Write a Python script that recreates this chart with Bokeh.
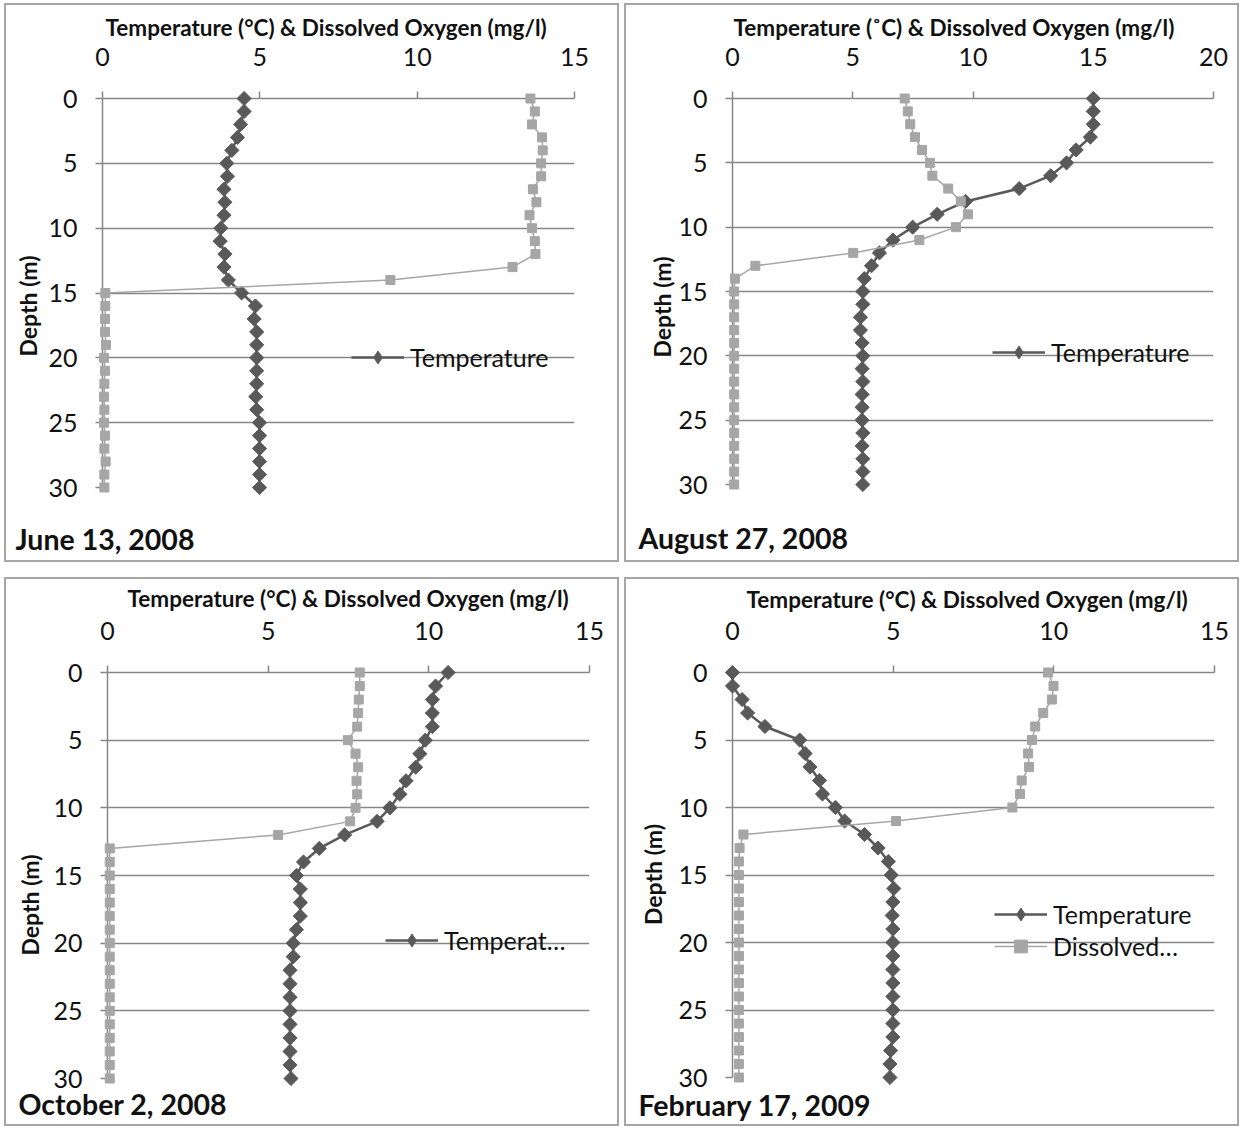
import numpy as np
from bokeh.plotting import figure
from bokeh.models import Range1d, FixedTicker, Legend, LegendItem, ColumnDataSource, Title, Spacer
from bokeh.layouts import row, column
from bokeh.embed import file_html
from bokeh.resources import INLINE

# ---------------- data ----------------
depth = list(range(31))
depth_ticks = [0, 5, 10, 15, 20, 25, 30]

jun_temp = [4.50, 4.50, 4.39, 4.29, 4.11, 3.95, 3.97, 3.86, 3.89, 3.86, 3.76, 3.74, 3.89, 3.86, 4.00,
            4.42, 4.86, 4.82, 4.90, 4.90, 4.90, 4.90, 4.90, 4.87, 4.90, 4.99, 4.99, 4.99, 4.99, 4.99, 4.99]
jun_do = [13.60, 13.74, 13.65, 13.97, 13.99, 13.94, 13.94, 13.68, 13.79, 13.57, 13.65, 13.74, 13.76, 13.03, 9.15,
          0.09, 0.09, 0.08, 0.08, 0.11, 0.05, 0.08, 0.06, 0.05, 0.06, 0.05, 0.08, 0.06, 0.10, 0.06, 0.06]

aug_temp = [15.00, 15.00, 15.00, 14.88, 14.29, 13.89, 13.23, 11.92, 9.69, 8.51, 7.49, 6.67, 6.11, 5.78, 5.48,
            5.42, 5.42, 5.32, 5.32, 5.39, 5.42, 5.39, 5.42, 5.39, 5.39, 5.39, 5.42, 5.39, 5.42, 5.42, 5.42]
aug_do = [7.16, 7.29, 7.39, 7.59, 7.88, 8.21, 8.31, 8.97, 9.49, 9.79, 9.29, 7.77, 5.02, 0.95, 0.10,
          0.07, 0.07, 0.07, 0.07, 0.07, 0.07, 0.07, 0.07, 0.07, 0.07, 0.07, 0.07, 0.07, 0.07, 0.07, 0.07]

oct_temp = [10.60, 10.21, 10.11, 10.11, 10.11, 9.89, 9.72, 9.59, 9.29, 9.10, 8.79, 8.39, 7.38, 6.59, 6.10,
            5.88, 6.00, 6.00, 6.00, 5.88, 5.78, 5.78, 5.68, 5.68, 5.68, 5.68, 5.68, 5.68, 5.68, 5.68, 5.71]
oct_do = [7.85, 7.85, 7.82, 7.80, 7.77, 7.48, 7.72, 7.80, 7.75, 7.77, 7.72, 7.55, 5.31, 0.07, 0.07,
          0.07, 0.07, 0.07, 0.07, 0.07, 0.07, 0.07, 0.07, 0.07, 0.07, 0.07, 0.07, 0.07, 0.07, 0.07, 0.07]

feb_temp = [0.00, 0.00, 0.30, 0.47, 1.01, 2.09, 2.26, 2.41, 2.71, 2.80, 3.20, 3.49, 4.11, 4.53, 4.85,
            4.94, 5.02, 4.99, 4.97, 4.99, 4.99, 4.99, 4.99, 4.99, 4.99, 4.99, 4.99, 4.99, 4.92, 4.90, 4.90]
feb_do = [9.82, 9.99, 9.94, 9.67, 9.42, 9.32, 9.20, 9.23, 9.00, 8.95, 8.71, 5.09, 0.34, 0.22, 0.20,
          0.20, 0.20, 0.20, 0.20, 0.20, 0.20, 0.20, 0.20, 0.20, 0.20, 0.20, 0.20, 0.20, 0.20, 0.20, 0.20]

dates = ["June 13, 2008", "August 27, 2008", "October 2, 2008", "February 17, 2009"]
x_titles = ["Temperature (°C) & Dissolved Oxygen (mg/l)",
            "Temperature (˚C) & Dissolved Oxygen (mg/l)",
            "Temperature (°C) & Dissolved Oxygen (mg/l)",
            "Temperature (°C) & Dissolved Oxygen (mg/l)"]
y_title = "Depth (m)"
x_ticks = [[0, 5, 10, 15], [0, 5, 10, 15, 20], [0, 5, 10, 15], [0, 5, 10, 15]]
legend_labels = [["Temperature"], ["Temperature"], ["Temperat…"], ["Temperature", "Dissolved…"]]

# ---------------- style ----------------
FONT = "Lato"
TEMP_COLOR = "#595959"
DO_COLOR = "#a6a6a6"
GRID_COLOR = "#868686"
TEXT_COLOR = "#111111"
FRAME_CSS = {"border": "2px solid #a6a6a6"}
FRAME_FIX = 4  # the css frame adds this many px to the plot area

XT_SIZE = 22.5
DT_SIZE = 28.5


def make_panel(temp, do, xticks, date, xtitle, labels, geo):
    cx, cy, cw, ch = geo["canvas"]
    L, R, T, B = geo["area"]
    W, H = R - L, B - T
    xmax = xticks[-1]
    p = figure(frame_width=W - FRAME_FIX, frame_height=H - FRAME_FIX, output_backend="svg",
               toolbar_location=None,
               x_range=Range1d(0, xmax), y_range=Range1d(30, 0), x_axis_location="above",
               min_border_left=L - cx, min_border_top=T - cy, min_border_right=cx + cw - R + FRAME_FIX,
               min_border_bottom=cy + ch - B + FRAME_FIX, title=None, styles=FRAME_CSS,
               background_fill_color="white", border_fill_color="white")
    p.outline_line_color = None
    p.xgrid.visible = False
    p.ygrid.ticker = FixedTicker(ticks=depth_ticks)
    p.ygrid.grid_line_color = GRID_COLOR
    p.ygrid.grid_line_width = 1.5
    p.xaxis.ticker = FixedTicker(ticks=xticks)
    p.yaxis.ticker = FixedTicker(ticks=depth_ticks)
    for ax in (p.xaxis[0], p.yaxis[0]):
        ax.major_tick_out = 7
        ax.major_tick_in = 0
        ax.minor_tick_out = 0
        ax.minor_tick_in = 0
        ax.axis_line_color = GRID_COLOR
        ax.axis_line_width = 1.5
        ax.major_tick_line_color = GRID_COLOR
        ax.major_tick_line_width = 1.5
        ax.major_label_text_font = FONT
        ax.major_label_text_font_size = "25px"
        ax.major_label_text_color = TEXT_COLOR
    p.xaxis.major_label_standoff = 26
    p.yaxis.major_label_standoff = 18

    src = ColumnDataSource(dict(depth=depth, temp=temp, do=do))
    t_line = p.line("temp", "depth", source=src, line_color=TEMP_COLOR, line_width=2.5, level="overlay")
    p.scatter("temp", "depth", source=src, marker="square", angle=np.pi / 4, size=10,
              fill_color=TEMP_COLOR, line_color=TEMP_COLOR, level="overlay")
    d_line = p.line("do", "depth", source=src, line_color=DO_COLOR, line_width=1.5, level="overlay")
    p.scatter("do", "depth", source=src, marker="square", size=9,
              fill_color=DO_COLOR, line_color=DO_COLOR, level="overlay")
    # legend-only marker proxies (not drawn in the plot area)
    t_leg = p.scatter(x=[np.nan], y=[np.nan], marker="diamond", fill_color=TEMP_COLOR, line_color=TEMP_COLOR)
    d_leg = p.scatter(x=[np.nan], y=[np.nan], marker="square", fill_color=DO_COLOR, line_color=DO_COLOR)

    items = [LegendItem(label=labels[0], renderers=[t_line, t_leg])]
    if len(labels) > 1:
        items.append(LegendItem(label=labels[1], renderers=[d_line, d_leg]))
    lgx, lgy = geo["legend"]
    row_h = 32
    leg_bottom = lgy - row_h / 2 + row_h * len(items)
    leg = Legend(items=items, location=(lgx - L, B - leg_bottom), padding=0, margin=0, spacing=0,
                 glyph_width=53, glyph_height=row_h, label_height=row_h, label_standoff=6,
                 label_text_font=FONT, label_text_font_size="25px", label_text_color=TEXT_COLOR,
                 background_fill_alpha=0, border_line_alpha=0)
    p.add_layout(leg)

    # x-axis title above the top axis
    xt_x, xt_s, xt_lift = geo["xtitle"]
    xt_text, xt_lh = xtitle, 1.0
    if xt_lift > 0:
        xt_text = xtitle + "\n"
        xt_lh = xt_lift / (1.2 * XT_SIZE)
    p.add_layout(Title(text=xt_text, align="left", offset=xt_x - L, vertical_align="bottom", standoff=xt_s,
                       text_line_height=xt_lh, text_font=FONT, text_font_size=f"{XT_SIZE}px",
                       text_font_style="bold", text_color=TEXT_COLOR), "above")
    # depth title on the left
    yt_s, yt_y = geo["ytitle"]
    p.add_layout(Title(text=y_title, align="left", offset=B - yt_y, vertical_align="bottom", standoff=yt_s,
                       text_font=FONT, text_font_size="23px", text_font_style="bold",
                       text_color=TEXT_COLOR), "left")
    # date caption below the plot area
    dt_x, dt_base = geo["date"]
    drop = dt_base - 0.975 * DT_SIZE - B
    p.add_layout(Title(text="\n" + date, align="left", offset=dt_x - L, vertical_align="top", standoff=0,
                       text_line_height=drop / (1.2 * DT_SIZE), text_font=FONT,
                       text_font_size=f"{DT_SIZE}px", text_font_style="bold",
                       text_color=TEXT_COLOR), "below")
    return p


geos = [
    dict(canvas=(6, 5, 611, 555), area=(102, 574, 98, 487), legend=(351, 357), xtitle=(105, 8, 0),
         ytitle=(8, 356), date=(15, 549)),
    dict(canvas=(626, 5, 611, 555), area=(732, 1213, 98, 484), legend=(992, 352), xtitle=(733, 8, 0),
         ytitle=(0, 357), date=(638, 549)),
    dict(canvas=(6, 579, 611, 545), area=(107, 589, 672, 1078), legend=(385, 940), xtitle=(127, 0, 7),
         ytitle=(14, 955), date=(18, 1114)),
    dict(canvas=(626, 579, 611, 545), area=(732, 1214, 671, 1076), legend=(994, 912.5), xtitle=(746, 0, 6),
         ytitle=(18, 923.5), date=(638, 1114)),
]

temps = [jun_temp, aug_temp, oct_temp, feb_temp]
dos = [jun_do, aug_do, oct_do, feb_do]
panels = [make_panel(temps[i], dos[i], x_ticks[i], dates[i], x_titles[i], legend_labels[i], geos[i])
          for i in range(4)]

grid = column(row(panels[0], panels[1], spacing=5), row(panels[2], panels[3], spacing=5), spacing=15)
layout = row(Spacer(width=4), column(Spacer(height=3), grid))

open("out.html", "w").write(file_html(layout, INLINE))
